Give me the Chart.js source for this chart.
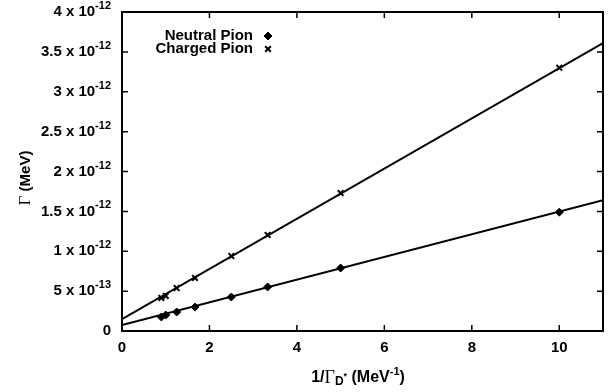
<!DOCTYPE html>
<html>
<head>
<meta charset="utf-8">
<script src="https://cdn.jsdelivr.net/npm/chart.js@4/dist/chart.umd.min.js"></script>
<style>
  body { margin: 0; background: #fff; }
  #wrap { width: 611px; height: 392px; position: relative; }
</style>
</head>
<body>
<div id="wrap"><canvas id="grafica"></canvas></div>
<script>
// datos (Gamma en unidades de 1e-12 MeV)
const invWidth = [0.9, 1.0, 1.25, 1.67, 2.5, 3.33, 5, 10];
const neutralGamma = [0.176, 0.200, 0.238, 0.300, 0.426, 0.552, 0.790, 1.490];
const chargedGamma = [0.414, 0.439, 0.539, 0.665, 0.940, 1.204, 1.730, 3.300];

// rectas de ajuste (extremos x = 0 y x = 11)
const fitX = [0, 11];
const neutralFit = [0.075, 1.64];
const chargedFit = [0.150, 3.61];

const xTicks = [0, 2, 4, 6, 8, 10];
const yTicks = [0, 0.5, 1, 1.5, 2, 2.5, 3, 3.5, 4];
const yTickMant = ['0', '5', '1', '1.5', '2', '2.5', '3', '3.5', '4'];
const yTickExp = ['', '-13', '-12', '-12', '-12', '-12', '-12', '-12', '-12'];

const SANS = '"Liberation Sans", Arial, sans-serif';
const SERIF = '"Liberation Serif", "Times New Roman", serif';

function puntos(xs, ys) {
  return xs.map((x, i) => ({ x: x, y: ys[i] }));
}

// dibuja un texto compuesto por trozos con distinta fuente / desplazamiento
function textoRico(ctx, partes, x, y, align) {
  let total = 0;
  partes.forEach(p => { ctx.font = p.font; total += ctx.measureText(p.t).width; });
  let cx = align === 'right' ? x - total : align === 'center' ? x - total / 2 : x;
  ctx.textAlign = 'left';
  ctx.textBaseline = 'middle';
  partes.forEach(p => {
    ctx.font = p.font;
    ctx.fillText(p.t, cx, y + (p.dy || 0));
    cx += ctx.measureText(p.t).width;
  });
}

const marco = {
  id: 'marco',
  afterDraw(chart) {
    const ctx = chart.ctx;
    const a = chart.chartArea;
    const sx = chart.scales.x, sy = chart.scales.y;
    ctx.save();
    ctx.fillStyle = '#000';
    ctx.strokeStyle = '#000';

    // caja y marcas hacia dentro
    ctx.lineWidth = 2;
    ctx.strokeRect(a.left, a.top, a.right - a.left, a.bottom - a.top);
    ctx.lineWidth = 1.5;
    ctx.beginPath();
    xTicks.forEach(v => {
      const px = sx.getPixelForValue(v);
      ctx.moveTo(px, a.bottom); ctx.lineTo(px, a.bottom - 6);
      ctx.moveTo(px, a.top); ctx.lineTo(px, a.top + 6);
    });
    yTicks.forEach(v => {
      const py = sy.getPixelForValue(v);
      ctx.moveTo(a.left, py); ctx.lineTo(a.left + 6, py);
      ctx.moveTo(a.right, py); ctx.lineTo(a.right - 6, py);
    });
    ctx.stroke();

    // etiquetas de los ejes
    const f = 'bold 15px ' + SANS;
    const fs = 'bold 11px ' + SANS;
    xTicks.forEach(v => {
      textoRico(ctx, [{ t: String(v), font: f }], sx.getPixelForValue(v), a.bottom + 17, 'center');
    });
    yTicks.forEach((v, i) => {
      const partes = [{ t: yTickMant[i], font: f }];
      if (yTickExp[i]) {
        partes[0].t += ' x 10';
        partes.push({ t: yTickExp[i], font: fs, dy: -6 });
      }
      textoRico(ctx, partes, a.left - 11, sy.getPixelForValue(v), 'right');
    });

    // titulo eje x: 1/Gamma_D* (MeV^-1)
    textoRico(ctx, [
      { t: '1/', font: 'bold 16px ' + SANS },
      { t: 'Γ', font: '18px ' + SERIF },
      { t: 'D', font: 'bold 12px ' + SANS, dy: 4 },
      { t: '*', font: 'bold 9px ' + SANS, dy: -1 },
      { t: ' (MeV', font: 'bold 16px ' + SANS },
      { t: '-1', font: fs, dy: -6 },
      { t: ')', font: 'bold 16px ' + SANS }
    ], 358, 378, 'center');

    // titulo eje y
    ctx.save();
    ctx.translate(26, 178);
    ctx.rotate(-Math.PI / 2);
    textoRico(ctx, [
      { t: 'Γ', font: '17px ' + SERIF },
      { t: ' (MeV)', font: f }
    ], 0, 0, 'center');
    ctx.restore();

    // leyenda
    textoRico(ctx, [{ t: 'Neutral Pion', font: f }], 253, 36, 'right');
    textoRico(ctx, [{ t: 'Charged Pion', font: f }], 253, 49, 'right');
    ctx.restore();
  },
  afterDatasetsDraw(chart) {
    // simbolos de la leyenda con el estilo de cada serie
    const ctx = chart.ctx;
    ctx.save();
    ctx.fillStyle = '#000';
    ctx.strokeStyle = '#000';
    ctx.lineWidth = 1;
    Chart.helpers.drawPoint(ctx, { pointStyle: 'rectRot', radius: 4, borderWidth: 1 }, 268, 36);
    ctx.lineWidth = 2;
    Chart.helpers.drawPoint(ctx, { pointStyle: 'crossRot', radius: 4, borderWidth: 2 }, 268, 49);
    ctx.restore();
  }
};

new Chart(document.getElementById('grafica'), {
  type: 'scatter',
  data: {
    datasets: [
      {
        label: 'Neutral Pion',
        data: puntos(invWidth, neutralGamma),
        pointStyle: 'rectRot',
        pointRadius: 4,
        backgroundColor: '#000',
        borderColor: '#000',
        borderWidth: 1
      },
      {
        label: 'Charged Pion',
        data: puntos(invWidth, chargedGamma),
        pointStyle: 'crossRot',
        pointRadius: 4,
        borderColor: '#000',
        borderWidth: 2
      },
      {
        label: 'ajuste neutro',
        data: puntos(fitX, neutralFit),
        showLine: true,
        pointRadius: 0,
        borderColor: '#000',
        borderWidth: 2
      },
      {
        label: 'ajuste cargado',
        data: puntos(fitX, chargedFit),
        showLine: true,
        pointRadius: 0,
        borderColor: '#000',
        borderWidth: 2
      }
    ]
  },
  options: {
    responsive: true,
    maintainAspectRatio: false,
    animation: false,
    layout: { padding: { top: 12, right: 8, left: 0, bottom: 0 } },
    plugins: { legend: { display: false }, tooltip: { enabled: false } },
    scales: {
      x: {
        type: 'linear', min: 0, max: 11,
        ticks: { display: false },
        grid: { display: false },
        border: { display: false },
        afterFit: s => { s.height = 61; }
      },
      y: {
        type: 'linear', min: 0, max: 4,
        ticks: { display: false },
        grid: { display: false },
        border: { display: false },
        afterFit: s => { s.width = 122; }
      }
    }
  },
  plugins: [marco]
});
</script>
</body>
</html>
